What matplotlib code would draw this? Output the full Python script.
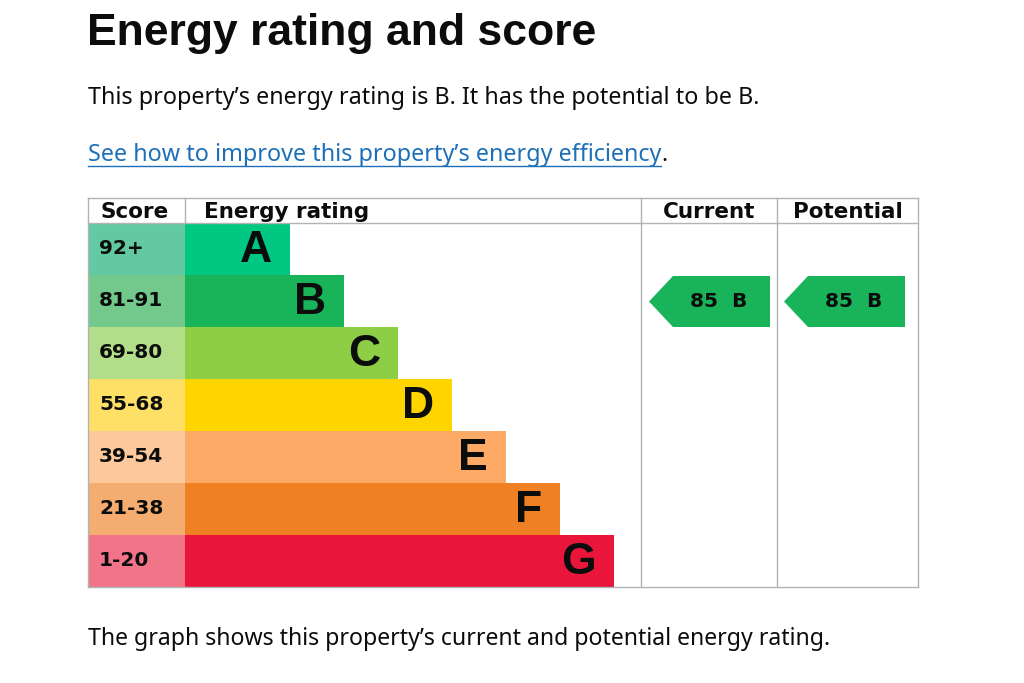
import matplotlib.pyplot as plt
from matplotlib.patches import Rectangle, Polygon

# Data
bands = ['A', 'B', 'C', 'D', 'E', 'F', 'G']
score_ranges = ['92+', '81-91', '69-80', '55-68', '39-54', '21-38', '1-20']
band_colors = ['#00c781', '#19b459', '#8dce46', '#ffd500', '#fcaa65', '#ef8023', '#e9153b']
score_colors = ['#62c9a2', '#73c98c', '#b3de89', '#ffe066', '#fdc89c', '#f4ac70', '#f27489']
current_score, current_band = 85, 'B'
potential_score, potential_band = 85, 'B'

title = 'Energy rating and score'
summary = 'This property\u2019s energy rating is B. It has the potential to be B.'
link_text = 'See how to improve this property\u2019s energy efficiency'
footer = 'The graph shows this property\u2019s current and potential energy rating.'

W, H = 1024, 683
fig = plt.figure(figsize=(W / 100, H / 100), dpi=100)
ax = fig.add_axes([0, 0, 1, 1])
ax.set_xlim(0, W)
ax.set_ylim(H, 0)
ax.axis('off')

body_font = 'Noto Sans'
chart_font = 'DejaVu Sans'
grid = '#b1b4b6'
ink = '#0b0c0c'

# text above the graph
ax.text(87, 34, title, fontsize=32, fontweight='bold', family='Liberation Sans', va='center', ha='left', color=ink)
ax.text(88, 98, summary, fontsize=16.8, family=body_font, va='center', ha='left', color=ink)
lt = ax.text(88, 155, link_text, fontsize=16.8, family=body_font, va='center', ha='left', color='#1d70b8')
fig.canvas.draw()
bb = lt.get_window_extent().transformed(ax.transData.inverted())
ax.plot([bb.x0, bb.x1], [166, 166], color='#1d70b8', lw=1)
ax.text(bb.x1, 155, '.', fontsize=16.8, family=body_font, va='center', ha='left', color=ink)
ax.text(88, 639, footer, fontsize=16.6, family=body_font, va='center', ha='left', color=ink)

# table geometry
left, right = 88, 918
top, head_bot = 198, 223
row_h = 52
score_w = 97
bar_x0 = left + score_w
col_cur, col_pot = 641, 777
bottom = head_bot + row_h * len(bands)

for i, (b, s) in enumerate(zip(bands, score_ranges)):
    y0 = head_bot + i * row_h
    ax.add_patch(Rectangle((left, y0), score_w, row_h, facecolor=score_colors[i], edgecolor='none'))
    bar_len = 105 + 54 * i
    ax.add_patch(Rectangle((bar_x0, y0), bar_len, row_h, facecolor=band_colors[i], edgecolor='none'))
    ax.text(left + 11, y0 + row_h / 2, s, fontsize=14.5, fontweight='bold', family=chart_font,
            va='center', ha='left', color=ink)
    ax.text(bar_x0 + bar_len - 18, y0 + row_h / 2 + 1, b, fontsize=32, fontweight='bold',
            family='Liberation Sans', va='center', ha='right', color=ink)

# grid lines
ax.plot([left, right], [top, top], color=grid, lw=1)
ax.plot([left, right], [head_bot, head_bot], color=grid, lw=1)
ax.plot([left, right], [bottom, bottom], color=grid, lw=1)
ax.plot([left, left], [top, bottom], color=grid, lw=1)
ax.plot([right, right], [top, bottom], color=grid, lw=1)
ax.plot([bar_x0, bar_x0], [top, head_bot], color=grid, lw=1)
for cx in (col_cur, col_pot):
    ax.plot([cx, cx], [top, bottom], color=grid, lw=1)

# headers
hy = (top + head_bot) / 2 + 1
ax.text(left + 12, hy, 'Score', fontsize=15.5, fontweight='bold', family=chart_font, va='center', ha='left', color=ink)
ax.text(bar_x0 + 19, hy, 'Energy rating', fontsize=15.5, fontweight='bold', family=chart_font, va='center', ha='left', color=ink)
ax.text((col_cur + col_pot) / 2, hy, 'Current', fontsize=15.5, fontweight='bold', family=chart_font, va='center', ha='center', color=ink)
ax.text((col_pot + right) / 2, hy, 'Potential', fontsize=15.5, fontweight='bold', family=chart_font, va='center', ha='center', color=ink)


def arrow(x_tip, x_right, score, band):
    i = bands.index(band)
    y0 = head_bot + i * row_h + 1
    y1 = y0 + row_h - 1
    ym = (y0 + y1) / 2
    pts = [(x_tip, ym), (x_tip + 24, y0), (x_right, y0), (x_right, y1), (x_tip + 24, y1)]
    ax.add_patch(Polygon(pts, closed=True, facecolor=band_colors[i], edgecolor='none'))
    ax.text((x_tip + 24 + x_right) / 2 - 3, ym, f'{score}  {band}', fontsize=14.5, fontweight='bold',
            family=chart_font, va='center', ha='center', color=ink)


arrow(col_cur + 8, col_pot - 7, current_score, current_band)
arrow(col_pot + 7, right - 13, potential_score, potential_band)

fig.savefig('out.png', dpi=100)
